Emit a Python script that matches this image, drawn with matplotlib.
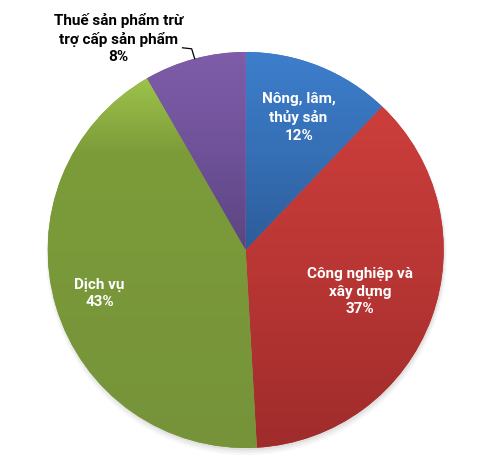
import numpy as np
import matplotlib
matplotlib.use("Agg")
import matplotlib.pyplot as plt
from matplotlib.colors import to_rgb

# ---- data ----
categories = ["Nông, lâm,\nthủy sản", "Công nghiệp và\nxây dựng", "Dịch vụ",
              "Thuế sản phẩm trừ\ntrợ cấp sản phẩm"]
values = [12.1, 37.0, 42.6, 8.3]
pct_labels = ["12%", "37%", "43%", "8%"]

# ---- style ----
grad_top = ["#3D7ECC", "#CC3E3B", "#9DC24B", "#7F5DA8"]
grad_mid = ["#3670B6", "#B83634", "#7C9C39", "#6F529A"]
grad_bot = ["#2D5C9A", "#9F2C2B", "#76933A", "#5C4480"]
label_r = [0.72, 0.615, 0.77, None]
FONT = ['Roboto', 'DejaVu Sans']

fig = plt.figure(figsize=(5.0, 4.62), dpi=100)
ax = fig.add_axes([0, 0, 1, 1])

# subtle shadow
for k, a in enumerate([0.05, 0.04, 0.03]):
    sh = plt.Circle((0.004, -0.012 - 0.006 * k), 1.0 + 0.006 * k, color="#000000",
                    alpha=a, lw=0, zorder=0)
    ax.add_patch(sh)

wedges, _ = ax.pie(values, startangle=90, counterclock=False, radius=1.0,
                   center=(0, 0), wedgeprops=dict(linewidth=0, zorder=1))

for i, w in enumerate(wedges):
    w.set_facecolor(grad_mid[i])
    bb = w.get_path().get_extents()
    n = 256
    t = np.linspace(0, 1, n)  # 0 bottom -> 1 top
    c0 = np.array(to_rgb(grad_bot[i]))
    c1 = np.array(to_rgb(grad_mid[i]))
    c2 = np.array(to_rgb(grad_top[i]))
    split = 0.8 if i == 2 else 0.5
    col = np.zeros((n, 3))
    for j, tt in enumerate(t):
        if tt < split:
            f = tt / split
            col[j] = c0 + (c1 - c0) * f
        else:
            f = (tt - split) / (1 - split)
            col[j] = c1 + (c2 - c1) * f
    img = col[:, None, :]
    im = ax.imshow(img, extent=[bb.x0, bb.x1, bb.y0, bb.y1], origin="lower",
                   aspect="auto", interpolation="bilinear", zorder=2)
    im.set_clip_path(w)

for i, w in enumerate(wedges):
    mid = np.deg2rad((w.theta1 + w.theta2) / 2)
    if label_r[i] is not None:
        r = label_r[i]
        ax.text(r * np.cos(mid), r * np.sin(mid), categories[i] + "\n" + pct_labels[i],
                ha="center", va="center", color="white", fontsize=11,
                fontweight="bold", family=FONT, linespacing=1.32, zorder=5)
    else:
        ex, ey = 1.0 * np.cos(mid), 1.0 * np.sin(mid)
        elx, ely = ex - 0.015, ey + 0.05
        sx, sy = elx - 0.046, ely + 0.005
        ax.plot([ex, elx, sx], [ey, ely, sy], color="black", lw=0.9, zorder=5)
        ang = np.deg2rad(90 + 31)
        ax.text(1.245 * np.cos(ang), 1.245 * np.sin(ang),
                categories[i] + "\n" + pct_labels[i],
                ha="center", va="center", color="black", fontsize=11,
                fontweight="bold", family=FONT, linespacing=1.32, zorder=5)

ax.set_xlim(-245.7 / 198, (500 - 245.7) / 198)
ax.set_ylim(-(462 - 250) / 198, 250 / 198)
ax.set_aspect("equal")
ax.axis("off")
fig.savefig("out.png", dpi=100, facecolor="white")
